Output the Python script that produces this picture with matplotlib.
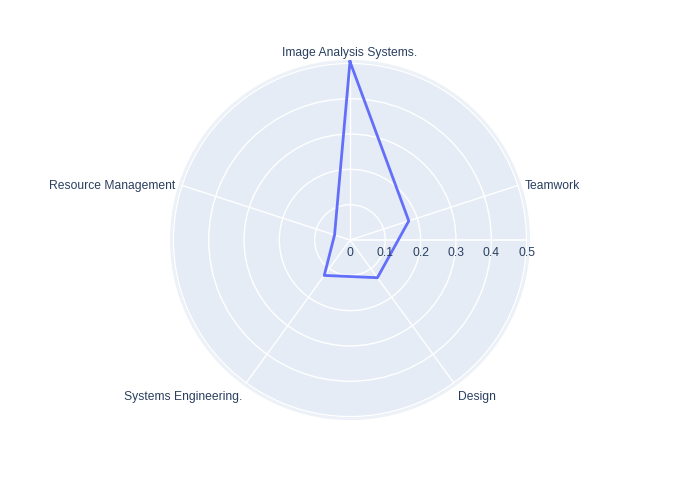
import numpy as np
import matplotlib
matplotlib.use("Agg")
import matplotlib.pyplot as plt

categories = ["Image Analysis Systems.", "Teamwork", "Design",
              "Systems Engineering.", "Resource Management"]
values = [0.505, 0.175, 0.132, 0.124, 0.046]
rticks = [0, 0.1, 0.2, 0.3, 0.4, 0.5]
rtick_labels = ["0", "0.1", "0.2", "0.3", "0.4", "0.5"]
rmax = 0.506

plt.rcParams['font.family'] = ['Liberation Sans', 'DejaVu Sans']
txt_color = "#2a3f5f"
bg = "#E5ECF6"
line_color = "#636EFA"

W, H = 700, 500
fig = plt.figure(figsize=(7, 5), dpi=100)
cx, cy, R = 350, 240, 178.7
ax = fig.add_axes([(cx - R) / W, (H - cy - R) / H, 2 * R / W, 2 * R / H],
                  projection='polar')
ax.set_facecolor(bg)
ax.set_theta_zero_location('N')
ax.set_theta_direction(-1)
ax.set_ylim(0, rmax)

n = len(categories)
angles = np.arange(n) * 2 * np.pi / n

ax.set_xticks(angles)
ax.set_xticklabels([])
ax.set_yticks(rticks[1:])
ax.set_yticklabels([])
ax.grid(True, color='white', linewidth=1)
ax.tick_params(length=0)
ax.spines['polar'].set_color('#EDF1F8')
ax.spines['polar'].set_linewidth(2)

# radial axis line at angle 0 (east)
east = np.pi / 2
ax.plot([east, east], [0, rmax], color='white', linewidth=1.2, zorder=1)

# data polygon
th = np.concatenate([angles, angles[:1]])
rv = np.concatenate([values, values[:1]])
ax.plot(th, rv, color=line_color, linewidth=2, zorder=3, clip_on=False)

fs = 8.7
# radial tick labels
for r, lab in zip(rticks, rtick_labels):
    ax.annotate(lab, xy=(east, r), xytext=(0, -12.5), textcoords='offset pixels',
                ha='center', va='center', fontsize=fs, color=txt_color,
                annotation_clip=False)

# angular labels
for a, lab in zip(angles, categories):
    deg = np.degrees(np.pi / 2 - a)  # math angle
    c, s = np.cos(np.radians(deg)), np.sin(np.radians(deg))
    if abs(c) < 0.1:
        ha = 'center'
    elif c > 0:
        ha = 'left'
    else:
        ha = 'right'
    if s > 0.9:
        va = 'bottom'
    elif s < -0.5:
        va = 'top'
    else:
        va = 'center'
    pad = 5
    ax.annotate(lab, xy=(a, rmax), xytext=(pad * c, pad * s - 2.5),
                textcoords='offset pixels', ha=ha, va=va, fontsize=fs,
                color=txt_color, annotation_clip=False)

fig.savefig("out.png", dpi=100, facecolor='white')
